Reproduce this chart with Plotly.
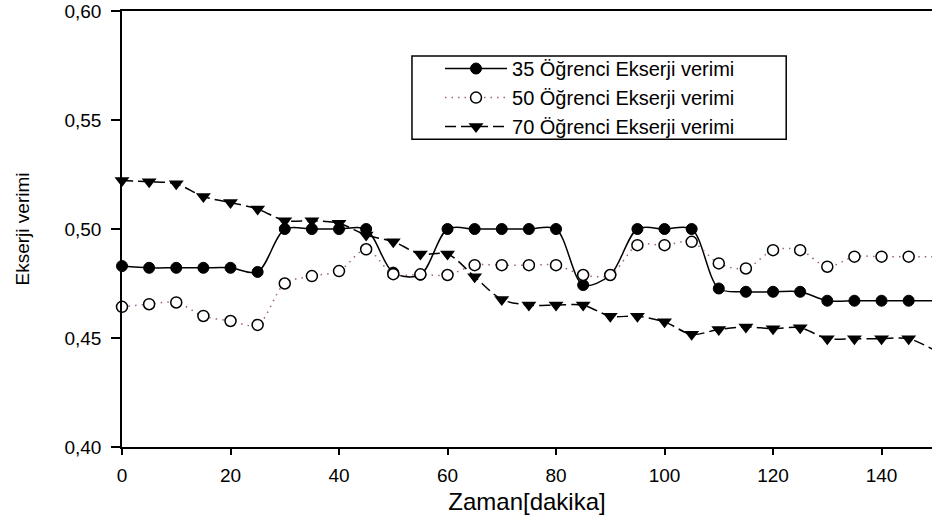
import plotly.graph_objects as go

time_min = [0, 5, 10, 15, 20, 25, 30, 35, 40, 45, 50, 55, 60, 65, 70, 75, 80, 85, 90, 95,
            100, 105, 110, 115, 120, 125, 130, 135, 140, 145, 150]

ogrenci35 = [0.4830, 0.4822, 0.4822, 0.4822, 0.4822, 0.4803, 0.5000, 0.5000, 0.5000, 0.5000,
             0.4800, 0.4790, 0.5000, 0.5000, 0.5000, 0.5000, 0.5000, 0.4743, 0.4789, 0.5000,
             0.5000, 0.5000, 0.4727, 0.4712, 0.4712, 0.4712, 0.4671, 0.4671, 0.4671, 0.4671, 0.4671]

ogrenci50 = [0.4643, 0.4655, 0.4663, 0.4601, 0.4578, 0.4560, 0.4750, 0.4784, 0.4807, 0.4907,
             0.4793, 0.4792, 0.4789, 0.4834, 0.4834, 0.4834, 0.4834, 0.4789, 0.4789, 0.4926,
             0.4926, 0.4941, 0.4842, 0.4819, 0.4903, 0.4903, 0.4827, 0.4873, 0.4873, 0.4873, 0.4873]

ogrenci70 = [0.5222, 0.5217, 0.5207, 0.5149, 0.5121, 0.5092, 0.5038, 0.5038, 0.5026, 0.4972,
             0.4942, 0.4885, 0.4885, 0.4781, 0.4677, 0.4651, 0.4651, 0.4651, 0.4600, 0.4600,
             0.4574, 0.4517, 0.4539, 0.4551, 0.4543, 0.4547, 0.4497, 0.4497, 0.4497, 0.4497, 0.4440]

series_names = ["35 Öğrenci Ekserji verimi", "50 Öğrenci Ekserji verimi", "70 Öğrenci Ekserji verimi"]

x_ticks = [0, 20, 40, 60, 80, 100, 120, 140]
y_ticks = [0.40, 0.45, 0.50, 0.55, 0.60]

FONT = "Liberation Sans, Arial, sans-serif"

fig = go.Figure()

fig.add_trace(go.Scatter(
    x=time_min, y=ogrenci35, name=series_names[0], mode="lines+markers",
    line=dict(color="black", width=1.5, shape="spline", smoothing=0.9),
    marker=dict(symbol="circle", size=11, color="black", line=dict(color="black", width=1)),
    cliponaxis=False,
))
fig.add_trace(go.Scatter(
    x=time_min, y=ogrenci50, name=series_names[1], mode="lines+markers",
    line=dict(color="#a0608a", width=1.5, shape="spline", smoothing=0.9, dash="1.5px,5px"),
    marker=dict(symbol="circle", size=11, color="white", line=dict(color="black", width=1.5)),
    cliponaxis=False,
))
fig.add_trace(go.Scatter(
    x=time_min, y=ogrenci70, name=series_names[2], mode="lines+markers",
    line=dict(color="black", width=1.5, shape="spline", smoothing=0.9, dash="11px,5px"),
    marker=dict(symbol="triangle-down", size=13, color="black", line=dict(color="black", width=0)),
    cliponaxis=False,
))

# legend frame (decoration) drawn as a paper-referenced rectangle
fig.add_shape(type="rect", xref="paper", yref="paper",
              x0=0.358, x1=0.820, y0=0.706, y1=0.897,
              line=dict(color="black", width=1.5), fillcolor="white", layer="below")

fig.update_layout(
    width=932, height=521,
    margin=dict(l=122, r=0, t=11, b=74),
    paper_bgcolor="white", plot_bgcolor="white",
    separators=",.",
    font=dict(family=FONT, color="black", size=19),
    showlegend=True,
    legend=dict(
        x=0.3926, y=0.8015, xanchor="left", yanchor="middle",
        bgcolor="rgba(0,0,0,0)", borderwidth=0,
        font=dict(family=FONT, size=20, color="black"),
        itemwidth=62,
    ),
    xaxis=dict(
        range=[0, 149.3], tickvals=x_ticks, ticks="outside", ticklen=6, tickwidth=1.5,
        tickcolor="black", showline=True, linecolor="black", linewidth=1.5, mirror=True,
        showgrid=False, zeroline=False, ticklabelstandoff=4,
        tickfont=dict(family=FONT, size=19),
        title=dict(text="Zaman[dakika]", font=dict(family=FONT, size=24), standoff=9),
    ),
    yaxis=dict(
        range=[0.40, 0.60], tickvals=y_ticks, tickformat=".2f", ticks="outside", ticklen=9,
        tickwidth=1.5, tickcolor="black", showline=True, linecolor="black", linewidth=1.5,
        mirror=False, showgrid=False, zeroline=False, ticklabelstandoff=6,
        tickfont=dict(family=FONT, size=19),
        title=dict(text="Ekserji verimi", font=dict(family=FONT, size=19), standoff=30),
    ),
)

fig.write_html("out.html")
